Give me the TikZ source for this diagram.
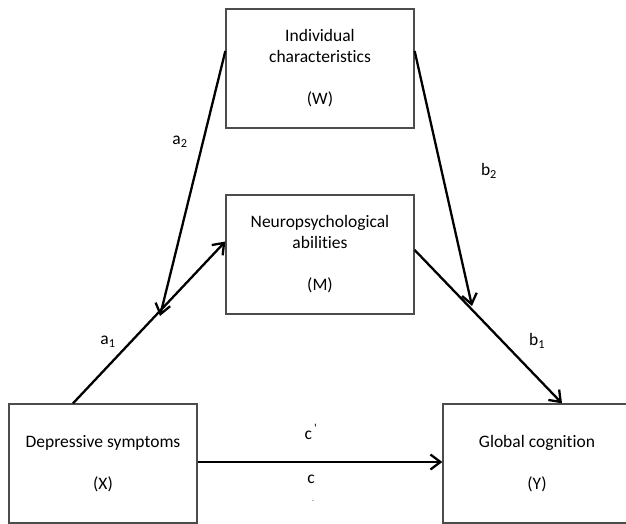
\documentclass[tikz,border=0pt]{standalone}
\usepackage{fontspec}
\setmainfont[Ligatures={NoCommon,NoRare,NoContextual}]{Carlito}
\usetikzlibrary{arrows.meta,positioning}

\begin{document}
\begin{tikzpicture}[x=1pt,y=-1pt,
      var_box/.style={
         rectangle,
         draw=black!70,
         line width=1.3pt,
         minimum width=188pt,
         minimum height=119pt,
         inner sep=0pt,
         align=center,
         font=\fontsize{17.5}{21}\selectfont},
      arrow_path/.style={
         -{Straight Barb[length=10pt,width=15pt]},
         line width=2.3pt,
         },
      path_label/.style={
         font=\fontsize{17.5}{21}\selectfont}
]
      \useasboundingbox (0,0) rectangle (626,524);

      % variables
      \node[var_box] (W) at (320,68.5) {Individual\\characteristics\\[21pt](W)};
      \node[var_box] (M) at (320,254.5) {Neuropsychological\\abilities\\[21pt](M)};
      \node[var_box] (X) at (103,463.5) {Depressive symptoms\\[21pt](X)};
      \node[var_box] (Y) at (537,463.5) {Global cognition\\[21pt](Y)};

      % free ends of the moderation paths
      \coordinate (a2end) at (160,316);
      \coordinate (b2end) at (472,306);

      \draw [arrow_path] ([yshift=17.5pt]W.west) -- (a2end);
      \draw [arrow_path] ([yshift=17.5pt]W.east) -- (b2end);
      \draw [arrow_path] ([xshift=-30pt]X.north) -- ([yshift=13pt]M.west);
      \draw [arrow_path] ([yshift=4.5pt]M.east) -- ([xshift=25pt]Y.north);
      \draw [arrow_path] ([yshift=1.5pt]X.east) -- ([yshift=1.5pt]Y.west);

      % path labels
      \node[path_label] (la2) at (180,142) {a\textsubscript{2}};
      \node[path_label] (lb2) at (489,171) {b\textsubscript{2}};
      \node[path_label] (la1) at (108,342) {a\textsubscript{1}};
      \node[path_label] (lb1) at (537,341) {b\textsubscript{1}};
      \node[path_label] (lcp) at (311,432) {c\textsuperscript{\,\textquotesingle}};
      \node[path_label] (lc) at (311,479) {c};
      \node[font=\fontsize{6}{7}\selectfont] (ldash) at (313,502) {-};
\end{tikzpicture}
\end{document}
